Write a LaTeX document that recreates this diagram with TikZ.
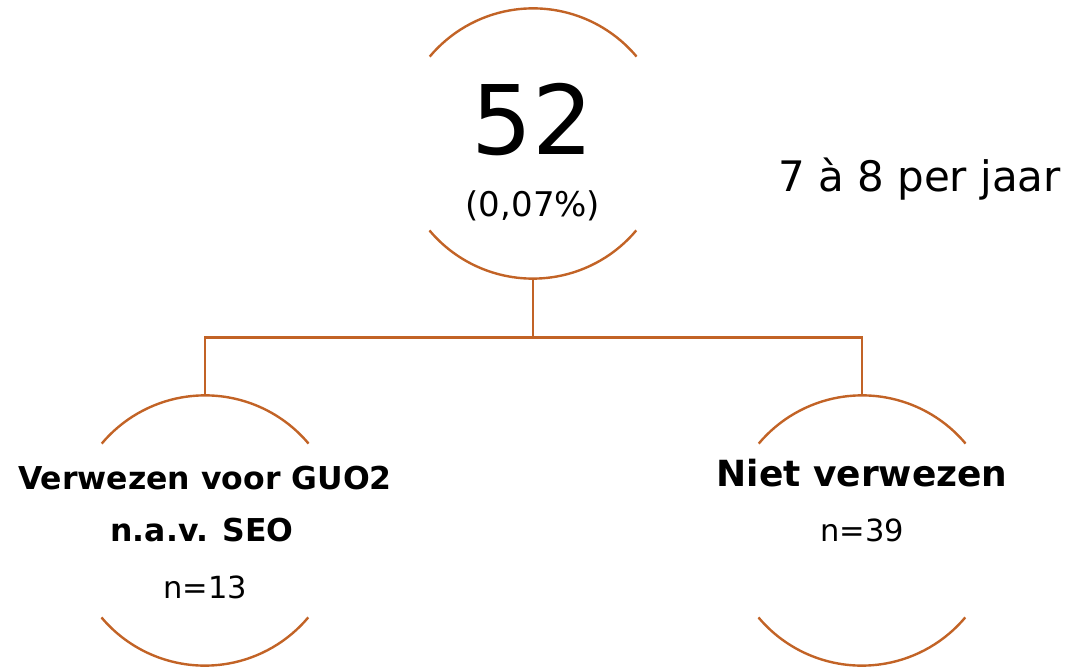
\documentclass[tikz,border=0pt]{standalone}
\usepackage{fontspec}
\setmainfont{DejaVu Sans}
\usepackage{tikz}
\usetikzlibrary{positioning}
\definecolor{burnt}{RGB}{194,99,38}

\begin{document}
\begin{tikzpicture}[
    x=1pt, y=1pt,
    ring/.style={circle, draw=none, minimum size=270pt, inner sep=0pt},
    arcline/.style={draw=burnt, line width=2.4pt},
    link/.style={draw=burnt, line width=2.4pt},
    txt/.style={inner sep=0pt, anchor=base},
    bigtxt/.style={txt, font=\fontsize{96}{100}\selectfont},
    pcttxt/.style={txt, font=\fontsize{34}{38}\selectfont},
    headL/.style={txt, font=\fontsize{31.5}{36}\selectfont\bfseries},
    headR/.style={txt, font=\fontsize{36}{40}\selectfont\bfseries},
    cnt/.style={txt, font=\fontsize{30.5}{34}\selectfont},
]
\useasboundingbox (0,0) rectangle (1076,667);

% Rings
\node[ring] (total) at (533,523.5) {};
\node[ring] (referred) at (205,136.5) {};
\node[ring] (notref) at (862,136.5) {};

% Ring arcs (top and bottom only)
\foreach \r in {total,referred,notref} {
    \draw[arcline] (\r.40) arc[start angle=40, end angle=140, radius=135pt];
    \draw[arcline] (\r.220) arc[start angle=220, end angle=320, radius=135pt];
}

% Total
\node[bigtxt] (num) at (533,512) {52};
\node[pcttxt] (pct) at (533,450) {(0,07\%)};

% Rate
\node[txt, anchor=base west, font=\fontsize{42}{46}\selectfont] (rate) at (778,475) {7 à 8 per jaar};

% Referred
\node[headL] (refa) at (205,177) {Verwezen voor GUO2};
\node[headL] (refb) at (202,125) {n.a.v. SEO};
\node[cnt] (refn) at (205,69) {n=13};

% Not referred
\node[headR] (nota) at (862,180) {Niet verwezen};
\node[cnt] (notn) at (862,125) {n=39};

% Connectors
\draw[link] (total.south) -- ++(0,-59) -| (referred.north);
\draw[link] (total.south) -- ++(0,-59) -| (notref.north);

\end{tikzpicture}
\end{document}
